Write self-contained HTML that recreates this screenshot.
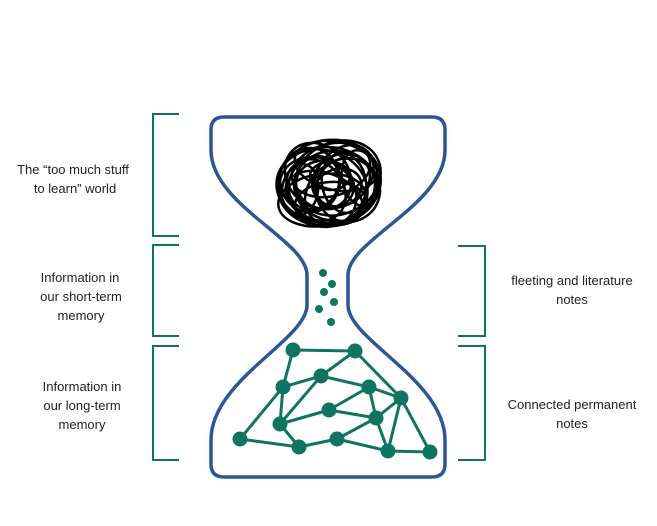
<!DOCTYPE html>
<html><head><meta charset="utf-8"><style>
html,body{margin:0;padding:0;background:#fff;}
svg{display:block;}
text{font-family:"Liberation Sans",sans-serif;font-size:13px;fill:#222;}
</style></head><body>
<svg width="657" height="526" viewBox="0 0 657 526" xmlns="http://www.w3.org/2000/svg">
<path d="M224,117 H432 Q445,117 445,130 V150 C445,205 348,240 348,275 V305 C348,340 445,380 445,440 V464 Q445,477 432,477 H224 Q211,477 211,464 V440 C211,380 307,340 307,305 V275 C307,240 211,205 211,150 V130 Q211,117 224,117 Z" fill="none" stroke="#2b5797" stroke-width="3.5"/>
<g fill="none" stroke="#000" stroke-width="2.5">
<ellipse cx="329" cy="183" rx="52" ry="43" transform="rotate(-10 329 183)"/>
<ellipse cx="322" cy="188" rx="46" ry="38" transform="rotate(15 322 188)"/>
<ellipse cx="338" cy="178" rx="44" ry="36" transform="rotate(-25 338 178)"/>
<ellipse cx="318" cy="192" rx="40" ry="33" transform="rotate(30 318 192)"/>
<ellipse cx="336" cy="186" rx="42" ry="35" transform="rotate(5 336 186)"/>
<ellipse cx="340" cy="192" rx="38" ry="30" transform="rotate(-40 340 192)"/>
<ellipse cx="318" cy="176" rx="36" ry="30" transform="rotate(45 318 176)"/>
<ellipse cx="331" cy="170" rx="40" ry="26" transform="rotate(-15 331 170)"/>
<ellipse cx="324" cy="198" rx="40" ry="25" transform="rotate(20 324 198)"/>
<ellipse cx="341" cy="180" rx="30" ry="25" transform="rotate(-30 341 180)"/>
<ellipse cx="325" cy="185" rx="29" ry="24" transform="rotate(10 325 185)"/>
<ellipse cx="338" cy="188" rx="24" ry="19" transform="rotate(-20 338 188)"/>
<ellipse cx="314" cy="183" rx="24" ry="28" transform="rotate(35 314 183)"/>
<ellipse cx="344" cy="183" rx="22" ry="30" transform="rotate(-10 344 183)"/>
<ellipse cx="330" cy="176" rx="20" ry="14"/>
<ellipse cx="310" cy="180" rx="30" ry="32" transform="rotate(-5 310 180)"/>
<ellipse cx="348" cy="190" rx="32" ry="32" transform="rotate(8 348 190)"/>
<ellipse cx="322" cy="200" rx="44" ry="26" transform="rotate(-8 322 200)"/>
<ellipse cx="336" cy="166" rx="42" ry="24" transform="rotate(12 336 166)"/>
<ellipse cx="316" cy="190" rx="33" ry="27" transform="rotate(50 316 190)"/>
<ellipse cx="344" cy="176" rx="34" ry="26" transform="rotate(-50 344 176)"/>
<ellipse cx="327" cy="185" rx="50" ry="38" transform="rotate(3 327 185)"/>
<ellipse cx="331" cy="204" rx="36" ry="22" transform="rotate(-4 331 204)"/>
<ellipse cx="300" cy="190" rx="18" ry="26" transform="rotate(10 300 190)"/>
<ellipse cx="360" cy="178" rx="18" ry="28" transform="rotate(-10 360 178)"/>
</g>
<g fill="#107560">
<circle cx="323" cy="273" r="4"/><circle cx="332" cy="284" r="4"/><circle cx="324" cy="292" r="4"/>
<circle cx="334" cy="302" r="4"/><circle cx="319" cy="309" r="4"/><circle cx="331" cy="322" r="4"/>
</g>
<g stroke="#107560" stroke-width="3" fill="none">
<line x1="293" y1="350" x2="355" y2="351"/>
<line x1="293" y1="350" x2="283" y2="387"/>
<line x1="355" y1="351" x2="321" y2="376"/>
<line x1="355" y1="351" x2="401" y2="398"/>
<line x1="321" y1="376" x2="283" y2="387"/>
<line x1="321" y1="376" x2="369" y2="387"/>
<line x1="321" y1="376" x2="280" y2="424"/>
<line x1="283" y1="387" x2="280" y2="424"/>
<line x1="283" y1="387" x2="240" y2="439"/>
<line x1="369" y1="387" x2="401" y2="398"/>
<line x1="369" y1="387" x2="376" y2="418"/>
<line x1="369" y1="387" x2="329" y2="410"/>
<line x1="329" y1="410" x2="280" y2="424"/>
<line x1="329" y1="410" x2="376" y2="418"/>
<line x1="280" y1="424" x2="299" y2="447"/>
<line x1="240" y1="439" x2="299" y2="447"/>
<line x1="299" y1="447" x2="337" y2="439"/>
<line x1="337" y1="439" x2="376" y2="418"/>
<line x1="337" y1="439" x2="388" y2="451"/>
<line x1="376" y1="418" x2="401" y2="398"/>
<line x1="376" y1="418" x2="388" y2="451"/>
<line x1="401" y1="398" x2="388" y2="451"/>
<line x1="401" y1="398" x2="430" y2="452"/>
<line x1="388" y1="451" x2="430" y2="452"/>
</g>
<g fill="#107560">
<circle cx="293" cy="350" r="7.5"/><circle cx="355" cy="351" r="7.5"/><circle cx="321" cy="376" r="7.5"/>
<circle cx="283" cy="387" r="7.5"/><circle cx="369" cy="387" r="7.5"/><circle cx="401" cy="398" r="7.5"/>
<circle cx="329" cy="410" r="7.5"/><circle cx="280" cy="424" r="7.5"/><circle cx="376" cy="418" r="7.5"/>
<circle cx="240" cy="439" r="7.5"/><circle cx="299" cy="447" r="7.5"/><circle cx="337" cy="439" r="7.5"/>
<circle cx="388" cy="451" r="7.5"/><circle cx="430" cy="452" r="7.5"/>
</g>
<g stroke="#107560" stroke-width="2" fill="none">
<polyline points="179,114 153,114 153,236 179,236"/>
<polyline points="179,245 153,245 153,336 179,336"/>
<polyline points="179,346 153,346 153,460 179,460"/>
<polyline points="458,246 485,246 485,336 458,336"/>
<polyline points="458,346 485,346 485,460 458,460"/>
</g>
<g text-anchor="middle">
<text x="73" y="174">The “too much stuff</text>
<text x="75" y="193">to learn” world</text>
<text x="80" y="282">Information in</text>
<text x="81" y="301">our short-term</text>
<text x="81" y="320">memory</text>
<text x="82" y="391">Information in</text>
<text x="82" y="410">our long-term</text>
<text x="82" y="429">memory</text>
<text x="572" y="285">fleeting and literature</text>
<text x="572" y="304">notes</text>
<text x="572" y="409">Connected  permanent</text>
<text x="572" y="428">notes</text>
</g>
</svg>
</body></html>
